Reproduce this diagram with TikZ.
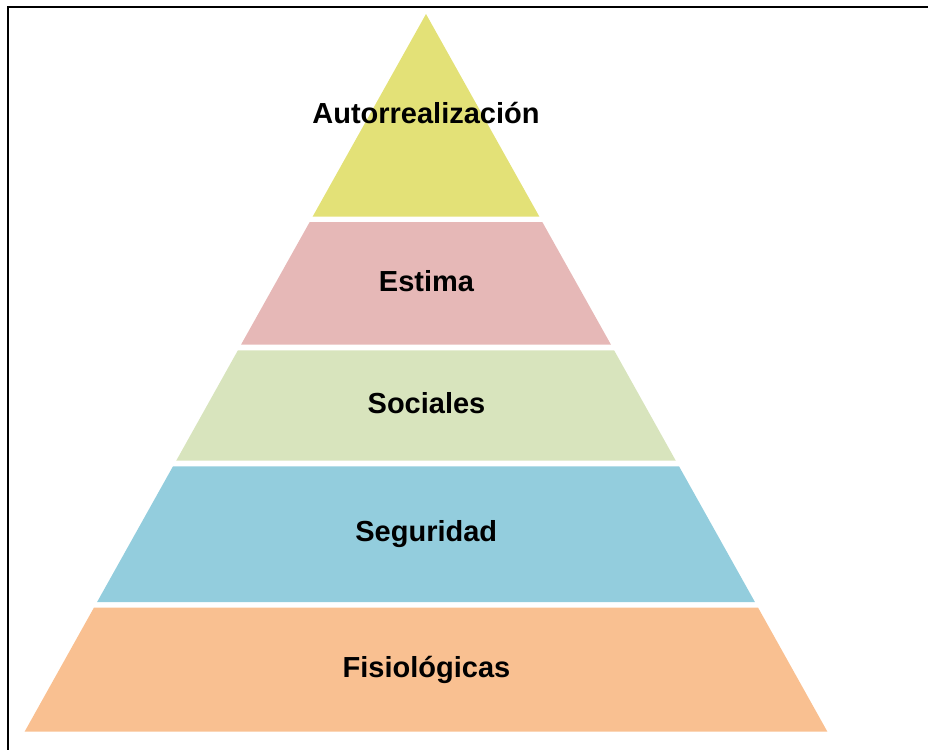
\documentclass[tikz,border=0pt]{standalone}
\usepackage{fontspec}
\setmainfont{Liberation Sans}
\definecolor{cyel}{HTML}{E3E177}
\definecolor{cpink}{HTML}{E6B8B7}
\definecolor{cgreen}{HTML}{D8E4BD}
\definecolor{cblue}{HTML}{93CDDD}
\definecolor{corange}{HTML}{F9C091}
\tikzset{
  lvl/.style={draw=none},
  lbl/.style={anchor=base, inner sep=0pt, font=\fontsize{29}{32}\selectfont\bfseries},
  frame/.style={line width=2pt, black}
}
\begin{document}
\begin{tikzpicture}[x=1pt,y=-1pt]
\useasboundingbox (0,0) rectangle (928,749);
\clip (0,0) rectangle (928,749);
\draw[frame] (7.5,760) -- (7.5,7.3) -- (940,7.3);
% levels
\fill[cyel]    (426,14) -- (539.3,216.5) -- (312.7,216.5) -- cycle;
\fill[cpink]   (309.7,222) -- (542.3,222) -- (611.0,344.7) -- (241.0,344.7) -- cycle;
\fill[cgreen]  (237.9,350.3) -- (614.1,350.3) -- (675.8,460.7) -- (176.2,460.7) -- cycle;
\fill[cblue]   (173.0,466.3) -- (679.0,466.3) -- (754.9,602) -- (97.1,602) -- cycle;
\fill[corange] (93.9,607.7) -- (758.1,607.7) -- (827.3,731.5) -- (24.7,731.5) -- cycle;
% labels
\node[lbl] (l1) at (426,123.3) {Autorrealización};
\node[lbl] (l2) at (426.5,291) {Estima};
\node[lbl] (l3) at (426.5,413.3) {Sociales};
\node[lbl] (l4) at (426.3,541.7) {Seguridad};
\node[lbl] (l5) at (426.5,677.3) {Fisiológicas};
\end{tikzpicture}
\end{document}
